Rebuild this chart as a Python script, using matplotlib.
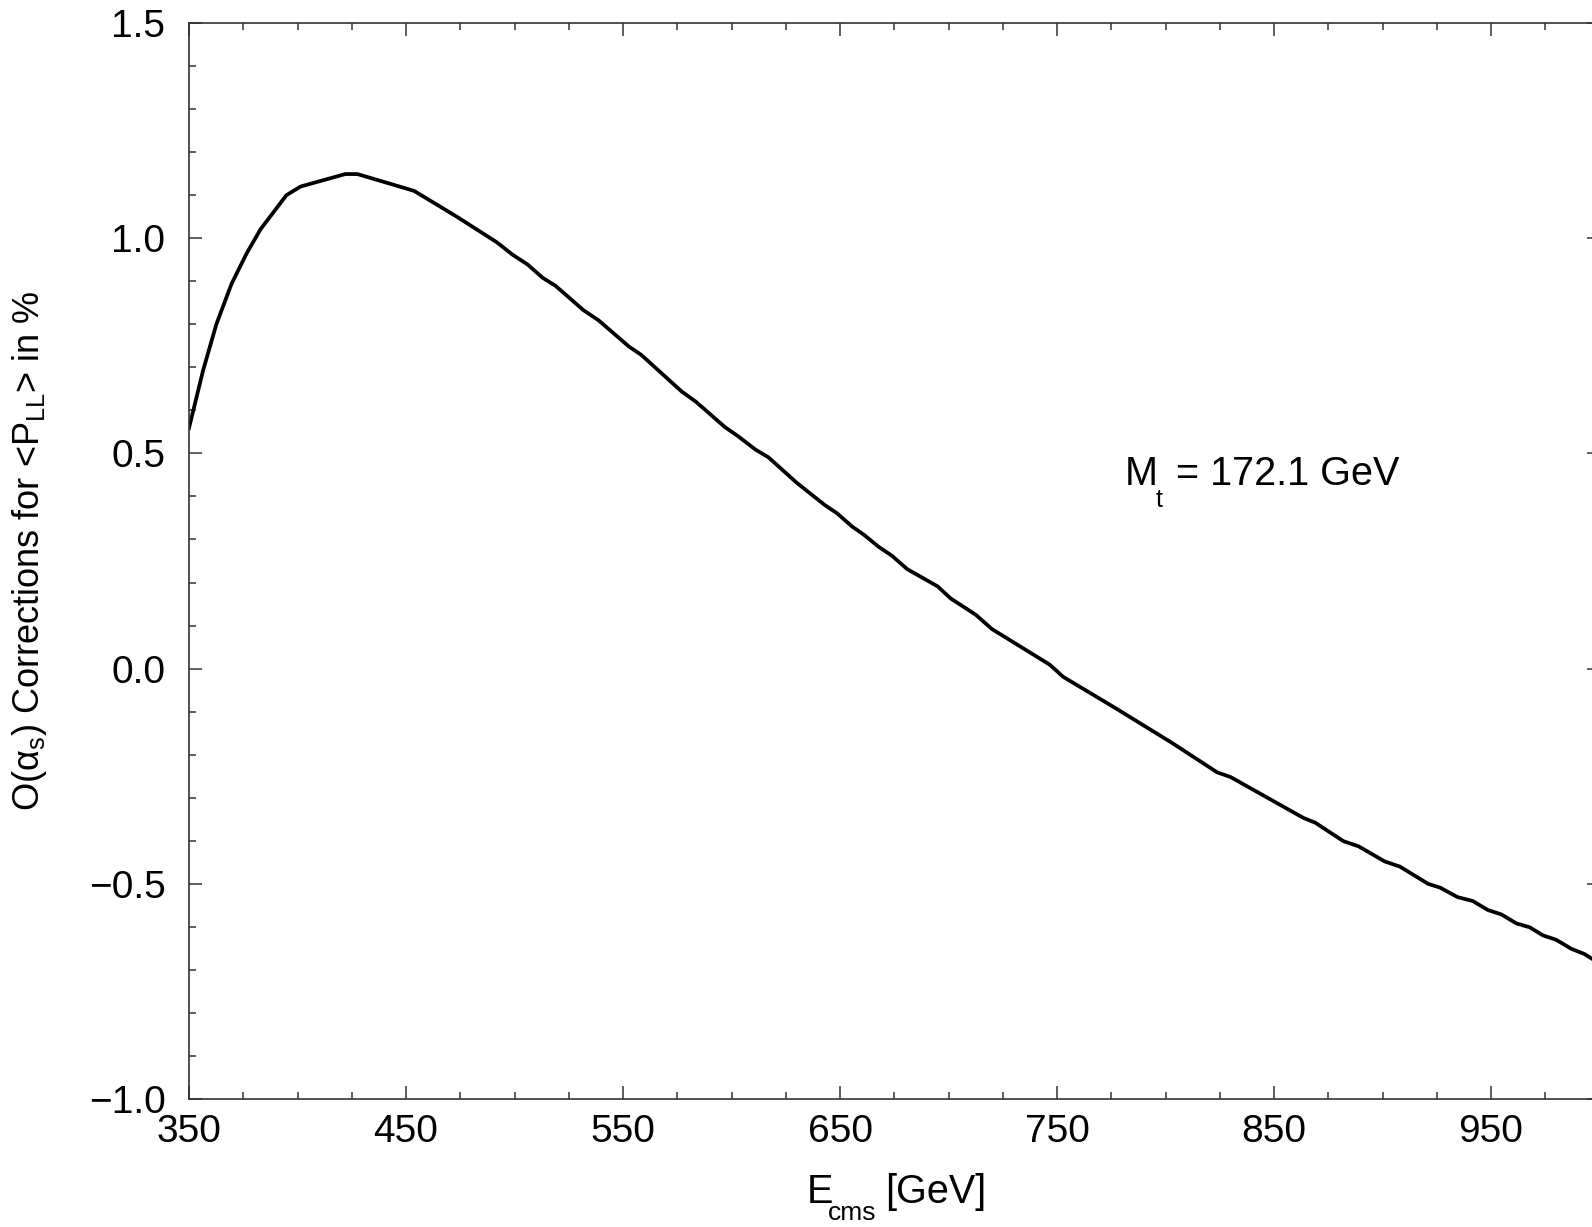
import matplotlib
matplotlib.use("Agg")
import matplotlib.pyplot as plt
from matplotlib import font_manager
from matplotlib.ticker import MultipleLocator, FixedLocator

plt.rcParams['font.family'] = ['Liberation Sans', 'DejaVu Sans']

_names = {f.name for f in font_manager.fontManager.ttflist}
HAS_NARROW = 'Liberation Sans Narrow' in _names
LABEL_FONT = 'Liberation Sans Narrow' if HAS_NARROW else 'Liberation Sans'
plt.rcParams['mathtext.fontset'] = 'custom'
plt.rcParams['mathtext.rm'] = LABEL_FONT
plt.rcParams['mathtext.it'] = LABEL_FONT

# Data
energy_gev = [350.0, 356.5, 362.6, 369.6, 376.6, 383.0, 394.9, 401.4, 422.0, 427.6,
              453.7, 473.4, 492.0, 499.0, 506.0, 513.0, 519.0, 531.7, 538.8, 552.8,
              558.4, 577.0, 583.6, 597.0, 603.0, 611.0, 617.0, 630.0, 635.5, 643.0,
              648.6, 655.6, 661.0, 667.8, 674.0, 681.0, 695.0, 701.0, 712.6, 720.0,
              746.7, 752.8, 777.0, 802.8, 823.8, 830.0, 863.6, 869.0, 882.0, 889.0,
              901.0, 908.0, 921.0, 926.6, 934.6, 941.6, 948.6, 954.7, 961.7, 967.8,
              974.0, 980.0, 987.0, 993.0, 1000.0]
correction_pct = [0.559, 0.693, 0.800, 0.894, 0.965, 1.021, 1.100, 1.120, 1.149, 1.149,
                  1.110, 1.050, 0.990, 0.962, 0.939, 0.908, 0.889, 0.833, 0.809, 0.748,
                  0.729, 0.644, 0.620, 0.561, 0.540, 0.509, 0.491, 0.432, 0.410, 0.380,
                  0.361, 0.330, 0.311, 0.283, 0.262, 0.231, 0.191, 0.163, 0.125, 0.092,
                  0.009, -0.019, -0.092, -0.172, -0.241, -0.252, -0.347, -0.358, -0.401, -0.413,
                  -0.448, -0.460, -0.500, -0.509, -0.531, -0.540, -0.561, -0.571, -0.592, -0.601,
                  -0.620, -0.630, -0.651, -0.663, -0.685]

x_major_ticks = [350, 450, 550, 650, 750, 850, 950]
x_tick_labels = ["350", "450", "550", "650", "750", "850", "950"]
y_major_ticks = [-1.0, -0.5, 0.0, 0.5, 1.0, 1.5]
y_tick_labels = ["\u22121.0", "\u22120.5", "0.0", "0.5", "1.0", "1.5"]

W, H = 1592, 1227
fig = plt.figure(figsize=(W / 100, H / 100), dpi=100)
left_px, right_px, top_px, bottom_px = 189, 1599.5, 23, 1099
ax = fig.add_axes([left_px / W, 1 - bottom_px / H,
                   (right_px - left_px) / W, (bottom_px - top_px) / H])

ax.plot(energy_gev, correction_pct, color='black', lw=2.7, solid_joinstyle='round')

ax.set_xlim(350, 1000)
ax.set_ylim(-1.0, 1.5)
ax.xaxis.set_major_locator(FixedLocator(x_major_ticks))
ax.set_xticklabels(x_tick_labels)
ax.xaxis.set_minor_locator(MultipleLocator(25))
ax.yaxis.set_major_locator(FixedLocator(y_major_ticks))
ax.set_yticklabels(y_tick_labels)
ax.yaxis.set_minor_locator(MultipleLocator(0.1))

ax.tick_params(which='both', direction='in', top=True, right=True, width=1.1, color='#333333')
ax.tick_params(which='major', length=9.5)
ax.tick_params(which='minor', length=5)
ax.tick_params(axis='y', which='major', pad=17, labelsize=28)
ax.tick_params(axis='x', which='major', pad=11, labelsize=28)
for s in ax.spines.values():
    s.set_linewidth(1.2)
    s.set_color('#333333')

# y label
ylab_size = 31.5 if HAS_NARROW else 26
fig.text(30 / W, 1 - 551 / H,
         r"O($\mathregular{\alpha_s}$) Corrections for <P$\mathregular{_{LL}}$> in %",
         rotation=90, ha='center', va='center', fontsize=ylab_size, family=LABEL_FONT)

# x label (PAW-style detached subscript)
xlab_big = 33 if HAS_NARROW else 28.5
fig.text(807 / W, 1 - 1203 / H, "E", ha='left', va='baseline', fontsize=xlab_big, family=LABEL_FONT)
fig.text(828 / W, 1 - 1220 / H, "cms", ha='left', va='baseline', fontsize=19)
fig.text(885 / W, 1 - 1203 / H, "[GeV]", ha='left', va='baseline', fontsize=xlab_big, family=LABEL_FONT)

# annotation
fig.text(1125 / W, 1 - 485 / H, "M", ha='left', va='baseline', fontsize=28.5)
fig.text(1156 / W, 1 - 507 / H, "t", ha='left', va='baseline', fontsize=18)
fig.text(1176 / W, 1 - 485 / H, "= 172.1 GeV", ha='left', va='baseline', fontsize=28.5)

fig.savefig("out.png", dpi=100)
